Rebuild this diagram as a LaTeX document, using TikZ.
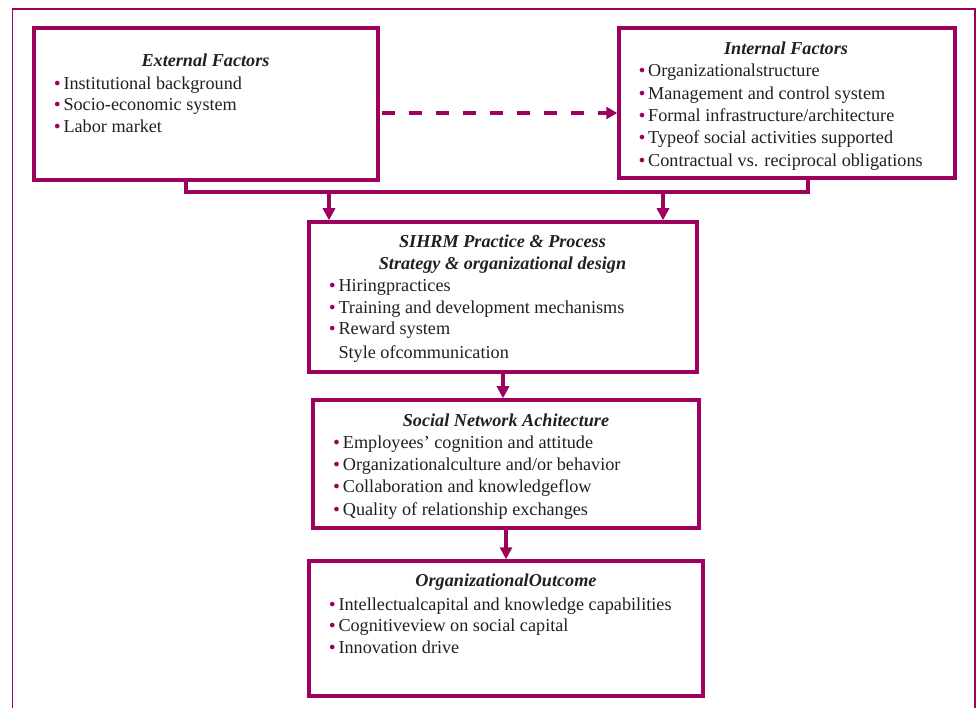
\documentclass[tikz,border=0pt]{standalone}
\usepackage{fontspec}
\setmainfont{Liberation Serif}
\newfontfamily\djv{DejaVu Sans}
\usetikzlibrary{arrows.meta}
\definecolor{mag}{RGB}{158,0,93}
\definecolor{ink}{RGB}{35,31,32}
\newcommand\bul{\llap{{\color{mag}\djv\fontsize{16}{16}\selectfont •}\hspace{1.5pt}}}
\begin{document}
\begin{tikzpicture}[x=1pt,y=-1pt,
 box/.style={draw=mag,line width=3.5pt,inner sep=0pt},
 conn/.style={draw=mag,line width=3.5pt,line join=miter},
 arr/.style={conn,-{Triangle[width=12pt,length=12pt]}},
 dashline/.style={conn,-{Triangle[width=12pt,length=11pt]},dash pattern=on 13pt off 14pt},
 txt/.style={anchor=base west,inner sep=0pt,font=\fontsize{18.2}{22.5}\selectfont,text=ink},
 ttl/.style={anchor=base,inner sep=0pt,font=\fontsize{18.2}{22.5}\selectfont\bfseries\itshape,text=ink}]
\useasboundingbox (0,0) rectangle (977,708);
% outer frame
\draw[mag,line width=1.6pt] (12.5,725) -- (12.5,9) -- (975,9) -- (975,725);

% boxes
\node[box,minimum width=344pt,minimum height=152pt] (ext) at (206,104) {};
\node[box,minimum width=336pt,minimum height=150pt] (int) at (787,103) {};
\node[box,minimum width=388pt,minimum height=150pt] (sih) at (503,297) {};
\node[box,minimum width=386pt,minimum height=128pt] (soc) at (506,464) {};
\node[box,minimum width=394pt,minimum height=135pt] (out) at (506,628.5) {};

% External
\node[ttl] (ext-t) at (205.5,66.7) {External Factors};
\node[txt] (ext-1) at (63.3,89.3) {\bul Institutional background};
\node[txt] (ext-2) at (63.3,111) {\bul Socio-economic system};
\node[txt] (ext-3) at (63.3,132.7) {\bul Labor market};

% Internal
\node[ttl] (int-t) at (786,54.3) {Internal Factors};
\node[txt] (int-1) at (648,76.7) {\bul Organizationalstructure};
\node[txt] (int-2) at (648,99.3) {\bul Management and control system};
\node[txt] (int-3) at (648,121.7) {\bul Formal infrastructure/architecture};
\node[txt] (int-4) at (648,144) {\bul Typeof social activities supported};
\node[txt] (int-5) at (648,166.7) {\bul Contractual vs. reciprocal obligations};

% SIHRM
\node[ttl] (sih-t1) at (502.5,247.7) {SIHRM Practice \& Process};
\node[ttl] (sih-t2) at (502.5,270) {Strategy \& organizational design};
\node[txt] (sih-1) at (338.3,292) {\bul Hiringpractices};
\node[txt] (sih-2) at (338.3,313.3) {\bul Training and development mechanisms};
\node[txt] (sih-3) at (338.3,335) {\bul Reward system};
\node[txt] (sih-4) at (338.3,358.3) {Style ofcommunication};

% Social
\node[ttl] (soc-t) at (506,426) {Social Network Achitecture};
\node[txt] (soc-1) at (342.7,448.3) {\bul Employees’ cognition and attitude};
\node[txt] (soc-2) at (342.7,470.7) {\bul Organizationalculture and/or behavior};
\node[txt] (soc-3) at (342.7,492.3) {\bul Collaboration and knowledgeflow};
\node[txt] (soc-4) at (342.7,515) {\bul Quality of relationship exchanges};

% Outcome
\node[ttl] (out-t) at (506,586.7) {OrganizationalOutcome};
\node[txt] (out-1) at (338.3,610) {\bul Intellectualcapital and knowledge capabilities};
\node[txt] (out-2) at (338.3,631.7) {\bul Cognitiveview on social capital};
\node[txt] (out-3) at (338.3,653.3) {\bul Innovation drive};

% connectors
\coordinate (j1) at (186,192);
\coordinate (j2) at (808,192);
\coordinate (a1) at (329,192);
\coordinate (a2) at (663,192);
\coordinate (d) at (0,113);
\draw[conn] (ext.south -| j1) -- (j1) -- (j2) -- (int.south -| j2);
\draw[arr] (a1) -- (a1 |- sih.north);
\draw[arr] (a2) -- (a2 |- sih.north);
\draw[dashline] ([xshift=2pt]ext.east |- d) -- (int.west |- d);
\draw[arr] (sih.south) -- (sih.south |- soc.north);
\draw[arr] (soc.south) -- (soc.south |- out.north);
\end{tikzpicture}
\end{document}
